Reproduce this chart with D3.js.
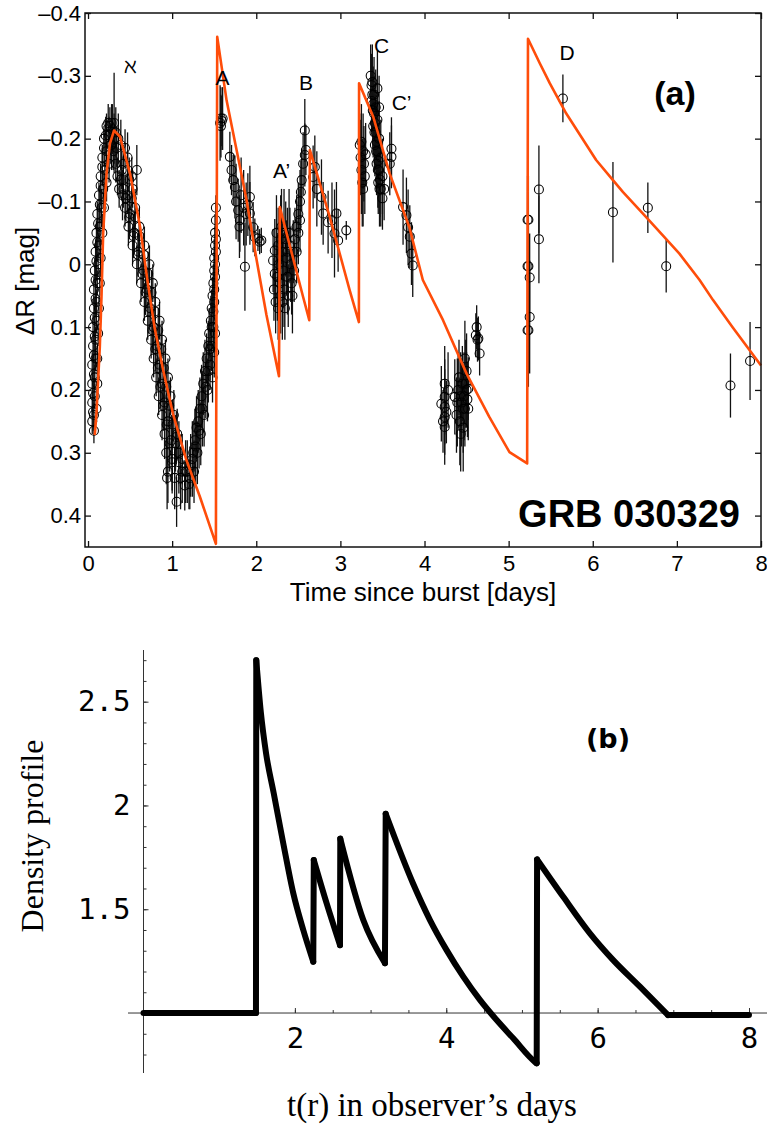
<!DOCTYPE html>
<html>
<head>
<meta charset="utf-8">
<title>GRB 030329 light curve and density profile</title>
<script src="https://d3js.org/d3.v7.min.js"></script>
<style>
body {
  margin: 0;
  background: #fff;
}
svg {
  display: block;
}
.frame {
  fill: none;
  stroke: #111;
  stroke-width: 1.5;
}
.sans {
  font-family: "Liberation Sans", Arial, Helvetica, sans-serif;
  fill: #000;
}
.mono {
  font-family: "DejaVu Sans Mono", monospace;
  fill: #000;
}
.serif {
  font-family: "Liberation Serif", "Times New Roman", serif;
  fill: #000;
}
</style>
</head>
<body>
<svg id="chart" width="767" height="1130"></svg>

<script>
// ---- panel (a): observed points, [t days, dR mag, error] ----
var humpRise = [
  [0.05,0.25,0.02],[0.05,0.22,0.02],[0.05,0.19,0.02],[0.05,0.16,0.02],[0.06,0.13,0.02],[0.06,0.10,0.02],
  [0.07,0.07,0.02],[0.07,0.04,0.02],[0.08,0.01,0.02],[0.09,-0.02,0.02],[0.10,-0.05,0.02],[0.11,-0.08,0.02],
  [0.13,-0.11,0.02],[0.15,-0.14,0.02],[0.17,-0.17,0.02],[0.19,-0.20,0.02],[0.22,-0.22,0.02],
  [0.07,0.265,0.02],[0.07,0.24,0.02],[0.08,0.21,0.02],[0.08,0.18,0.02],[0.09,0.15,0.02],[0.09,0.12,0.02],
  [0.10,0.09,0.02],[0.10,0.06,0.02],[0.11,0.03,0.02],[0.12,0.00,0.02],[0.13,-0.03,0.02],[0.14,-0.06,0.03],
  [0.16,-0.09,0.03],[0.18,-0.12,0.03],[0.20,-0.15,0.03],[0.22,-0.18,0.03],[0.25,-0.205,0.03],
  [0.10,0.23,0.02],[0.11,0.19,0.02],[0.11,0.15,0.02],[0.12,0.11,0.02],[0.13,0.07,0.02],[0.14,0.03,0.02],
  [0.15,-0.01,0.03],[0.17,-0.05,0.03],[0.19,-0.09,0.03],[0.22,-0.13,0.03],[0.25,-0.16,0.03],[0.28,-0.19,0.04],
  [0.06,0.235,0.03],[0.06,0.205,0.03],[0.07,0.175,0.03],[0.07,0.145,0.03],[0.08,0.115,0.03],[0.08,0.085,0.03],
  [0.09,0.055,0.03],[0.09,0.025,0.03],[0.10,-0.005,0.03],[0.11,-0.035,0.03],[0.12,-0.065,0.03],
  [0.14,-0.095,0.03],[0.15,-0.125,0.03],[0.17,-0.155,0.03],[0.19,-0.185,0.03],[0.21,-0.205,0.03],
  [0.24,-0.225,0.03]
];
var humpPeak = [
  [0.26,-0.22,0.03],[0.28,-0.225,0.03],[0.29,-0.215,0.04],[0.31,-0.225,0.08],[0.33,-0.21,0.04],[0.36,-0.20,0.04],
  [0.39,-0.19,0.04],[0.30,-0.18,0.03],[0.33,-0.16,0.03],[0.35,-0.14,0.03],[0.37,-0.12,0.03],[0.39,-0.135,0.03],
  [0.42,-0.16,0.03],[0.44,-0.185,0.03],[0.27,-0.19,0.03],[0.34,-0.185,0.03],[0.31,-0.20,0.04],[0.47,-0.17,0.04],
  [0.58,-0.15,0.04],[0.41,-0.11,0.04]
];
var humpFall = [
  [0.40,-0.15,0.03],[0.47,-0.15,0.03],[0.52,-0.14,0.03],
  [0.42,-0.12,0.03],[0.47,-0.11,0.03],[0.53,-0.12,0.03],
  [0.44,-0.09,0.03],[0.50,-0.08,0.03],[0.56,-0.09,0.03],
  [0.48,-0.06,0.03],[0.55,-0.05,0.03],[0.61,-0.06,0.03],
  [0.53,-0.03,0.03],[0.60,-0.02,0.03],[0.67,-0.03,0.03],
  [0.58,0.00,0.03],[0.66,0.01,0.03],[0.73,0.00,0.03],
  [0.63,0.03,0.03],[0.70,0.04,0.03],[0.77,0.03,0.03],
  [0.67,0.06,0.03],[0.74,0.07,0.03],[0.80,0.06,0.03],
  [0.71,0.09,0.03],[0.78,0.10,0.03],[0.85,0.09,0.03],
  [0.75,0.12,0.03],[0.82,0.13,0.03],[0.88,0.12,0.03],
  [0.78,0.15,0.03],[0.85,0.16,0.03],[0.92,0.15,0.03],
  [0.81,0.18,0.03],[0.88,0.19,0.03],[0.95,0.18,0.03],
  [0.84,0.21,0.03],[0.91,0.22,0.03],[0.98,0.21,0.03],
  [0.88,0.24,0.04],[0.95,0.25,0.04],[1.02,0.24,0.04],
  [0.91,0.27,0.04],[0.99,0.28,0.04],[1.06,0.27,0.04],
  [0.93,0.30,0.05],[1.00,0.31,0.05],[1.08,0.30,0.05],
  [0.95,0.33,0.05],[1.03,0.34,0.05],[1.12,0.33,0.05],
  [0.42,-0.135,0.035],[0.49,-0.135,0.035],[0.45,-0.105,0.035],[0.52,-0.105,0.035],
  [0.49,-0.075,0.035],[0.56,-0.075,0.035],[0.54,-0.045,0.035],[0.61,-0.045,0.035],
  [0.595,-0.015,0.035],[0.665,-0.015,0.035],[0.645,0.015,0.035],[0.715,0.015,0.035],
  [0.685,0.045,0.035],[0.755,0.045,0.035],[0.725,0.075,0.035],[0.795,0.075,0.035],
  [0.765,0.105,0.035],[0.835,0.105,0.035],[0.80,0.135,0.035],[0.87,0.135,0.035],
  [0.83,0.165,0.035],[0.90,0.165,0.035],[0.86,0.195,0.035],[0.93,0.195,0.035],
  [0.895,0.225,0.04],[0.965,0.225,0.04],[0.935,0.255,0.04],[1.005,0.255,0.04],
  [0.97,0.285,0.045],[1.04,0.285,0.045],[1.00,0.315,0.05],[1.08,0.315,0.05]
];
var humpTrough = [
  [1.05,0.275,0.04],[1.15,0.352,0.04],[0.94,0.34,0.05],[1.053,0.378,0.04],[1.10,0.34,0.05],
  [1.18,0.33,0.05],[1.20,0.35,0.04],[1.12,0.31,0.04]
];
var humpClimb = [
  [1.22,0.32,0.05],[1.25,0.30,0.05],[1.27,0.28,0.05],[1.29,0.26,0.05],[1.31,0.25,0.05],[1.33,0.23,0.05],
  [1.35,0.21,0.05],[1.37,0.19,0.05],[1.39,0.17,0.05],[1.41,0.15,0.04],[1.43,0.13,0.04],[1.44,0.11,0.04],
  [1.46,0.09,0.04],[1.47,0.07,0.03],[1.48,0.05,0.03],[1.49,0.03,0.03],[1.50,0.01,0.03],[1.50,-0.01,0.03],
  [1.51,-0.03,0.03],[1.51,-0.05,0.03],[1.52,-0.07,0.03],[1.52,-0.09,0.02],
  [1.26,0.33,0.05],[1.30,0.30,0.05],[1.34,0.27,0.05],[1.38,0.24,0.05],[1.42,0.20,0.05],[1.45,0.16,0.04],
  [1.47,0.13,0.04],[1.49,0.10,0.04],[1.50,0.06,0.03],[1.51,0.02,0.03],[1.52,-0.02,0.03],[1.48,0.18,0.04],
  [1.50,0.14,0.04],[1.51,0.11,0.03],
  [1.24,0.31,0.06],[1.28,0.29,0.06],[1.32,0.265,0.06],[1.36,0.23,0.06],[1.40,0.195,0.05],[1.43,0.17,0.05],
  [1.45,0.135,0.05],[1.47,0.10,0.04],[1.49,0.075,0.04],[1.50,0.04,0.04],[1.51,0.00,0.03],[1.52,-0.04,0.03],
  [1.21,0.34,0.05],[1.16,0.33,0.05]
];
var flareA = [
  [1.57,-0.225,0.06],[1.58,-0.232,0.05],[1.59,-0.228,0.04],[1.60,-0.232,0.05],[1.58,-0.22,0.05],
  [1.686,-0.171,0.04],[1.706,-0.15,0.04],[1.726,-0.134,0.04],[1.746,-0.123,0.05],[1.785,-0.086,0.05],
  [1.805,-0.07,0.05],[1.76,-0.10,0.06],[1.82,-0.11,0.06],[1.85,-0.09,0.06],[1.88,-0.08,0.05],
  [1.90,-0.095,0.05],[1.924,-0.107,0.05],[1.924,-0.081,0.05],[1.963,-0.059,0.04],[1.983,-0.043,0.03],
  [2.02,-0.041,0.02],[2.06,-0.038,0.02],[2.04,-0.036,0.02],[1.865,0.004,0.07],[1.80,-0.06,0.05]
];
var flareA2 = [
  [2.20,-0.006,0.05],[2.22,-0.022,0.05],[2.22,0.015,0.05],[2.21,0.04,0.05],[2.23,0.06,0.05],[2.24,-0.05,0.06],
  [2.26,-0.03,0.06],[2.27,0.00,0.06],[2.28,0.03,0.06],[2.29,0.05,0.06],[2.30,-0.06,0.06],[2.31,-0.02,0.06],
  [2.32,0.01,0.06],[2.33,0.04,0.06],[2.35,-0.04,0.06],[2.36,-0.01,0.06],[2.37,0.02,0.06],[2.38,0.05,0.05],
  [2.40,-0.03,0.06],[2.41,0.00,0.06],[2.42,0.03,0.05],[2.44,-0.02,0.05],[2.45,0.01,0.05],[2.26,0.07,0.05],
  [2.34,0.07,0.05],[2.25,0.02,0.07],[2.29,-0.04,0.07],[2.33,-0.05,0.07],[2.39,-0.05,0.07],[2.43,0.05,0.06],
  [2.31,0.06,0.06],[2.37,-0.02,0.07]
];
var flareB = [
  [2.46,-0.04,0.05],[2.48,-0.06,0.05],[2.50,-0.08,0.05],[2.52,-0.10,0.05],[2.53,-0.115,0.05],[2.54,-0.134,0.05],
  [2.557,-0.16,0.05],[2.577,-0.174,0.05],[2.59,-0.182,0.04],[2.577,-0.213,0.05],[2.50,-0.05,0.05],
  [2.52,-0.07,0.05],[2.48,-0.02,0.05],
  [2.676,-0.139,0.05],[2.696,-0.155,0.05],[2.775,-0.107,0.06],[2.795,-0.081,0.05],[2.854,-0.067,0.05],
  [2.93,-0.049,0.07],[2.953,-0.081,0.05],[2.973,-0.038,0.05],[3.07,-0.054,0.015],[2.72,-0.12,0.06],
  [2.90,-0.07,0.06]
];
var flareC = [
  [3.23,-0.19,0.05],[3.24,-0.17,0.06],[3.25,-0.15,0.07],[3.26,-0.13,0.07],[3.27,-0.18,0.06],[3.28,-0.16,0.06],
  [3.29,-0.14,0.06],[3.30,-0.175,0.05],[3.25,-0.195,0.06],[3.27,-0.12,0.06],
  [3.36,-0.30,0.05],[3.37,-0.285,0.05],[3.38,-0.27,0.06],[3.39,-0.255,0.06],[3.40,-0.24,0.06],[3.41,-0.225,0.06],
  [3.42,-0.21,0.06],[3.43,-0.195,0.06],[3.44,-0.18,0.06],[3.45,-0.165,0.06],[3.46,-0.15,0.06],[3.47,-0.135,0.06],
  [3.48,-0.12,0.06],[3.50,-0.105,0.05],[3.38,-0.29,0.06],[3.40,-0.27,0.06],[3.42,-0.25,0.06],[3.44,-0.23,0.06],
  [3.46,-0.20,0.06],[3.48,-0.17,0.06],[3.50,-0.14,0.06],[3.37,-0.26,0.05],[3.39,-0.22,0.05],[3.41,-0.19,0.05],
  [3.43,-0.16,0.05],[3.45,-0.13,0.05],[3.52,-0.12,0.05],[3.44,-0.28,0.06],[3.46,-0.25,0.05],
  [3.385,-0.245,0.06],[3.405,-0.21,0.06],[3.425,-0.18,0.06],[3.445,-0.15,0.06],[3.465,-0.12,0.06]
];
var flareC2 = [
  [3.587,-0.16,0.05],[3.607,-0.171,0.05],[3.607,-0.184,0.05],
  [3.745,-0.091,0.06],[3.785,-0.078,0.06],[3.805,-0.059,0.06],[3.825,-0.044,0.05],[3.845,-0.017,0.05],
  [3.86,0.002,0.05]
];
var dipDay4 = [
  [4.20,0.222,0.06],[4.24,0.19,0.06],[4.24,0.211,0.06],[4.24,0.227,0.06],[4.24,0.243,0.06],[4.24,0.259,0.06],
  [4.28,0.20,0.06],[4.26,0.235,0.05],[4.22,0.25,0.05],
  [4.36,0.211,0.06],[4.38,0.24,0.06],[4.40,0.20,0.06],[4.42,0.25,0.07],[4.44,0.22,0.07],[4.45,0.19,0.06],
  [4.46,0.26,0.07],[4.48,0.15,0.06],[4.48,0.23,0.06],[4.50,0.20,0.06],[4.52,0.198,0.05],[4.52,0.23,0.05],
  [4.41,0.18,0.06],[4.43,0.27,0.06],[4.47,0.21,0.07],[4.50,0.17,0.06],
  [4.39,0.22,0.07],[4.43,0.21,0.07],[4.46,0.23,0.07],[4.49,0.19,0.07],[4.51,0.215,0.06],
  [4.62,0.10,0.035],[4.64,0.118,0.035],[4.61,0.113,0.035],[4.655,0.142,0.035],[4.63,0.12,0.035]
];
var flareD = [
  [5.225,-0.071,0.07],[5.235,-0.071,0.07],[5.36,-0.119,0.07],[5.36,-0.04,0.07],[5.225,0.003,0.07],
  [5.235,0.003,0.07],[5.25,0.021,0.07],[5.25,0.084,0.09],[5.225,0.105,0.09],[5.235,0.105,0.09],
  [5.645,-0.264,0.038],[6.24,-0.083,0.08],[6.655,-0.09,0.04],[6.873,0.003,0.042],[7.637,0.193,0.051],
  [7.87,0.154,0.062]
];

// ---- panel (a): model light curve ----
var modelT = [0.08,0.10,0.14,0.16,0.18,0.22,0.26,0.31,0.38,0.50,0.62,0.70,0.79,0.894,1.01,1.17,1.33,1.52,
  1.536,1.647,1.766,1.885,2.00,2.12,2.27,2.28,2.557,2.63,2.637,2.874,3.11,3.22,3.222,3.39,3.587,3.82,
  3.98,4.22,4.50,4.77,5.01,5.22,5.23,5.37,5.49,5.685,6.04,6.24,6.36,6.635,7.03,7.27,7.43,7.66,8.0];
var modelR = [0.272,0.238,0.132,0.052,-0.049,-0.144,-0.192,-0.213,-0.203,-0.144,-0.059,0.02,0.10,0.169,0.238,
  0.312,0.37,0.445,-0.362,-0.261,-0.182,-0.102,-0.01,0.08,0.178,-0.091,0.052,0.089,-0.182,-0.075,0.041,
  0.092,-0.288,-0.235,-0.144,-0.059,0.025,0.089,0.174,0.243,0.299,0.317,-0.359,-0.32,-0.288,-0.24,-0.166,
  -0.134,-0.115,-0.075,-0.017,0.025,0.057,0.10,0.161];

var peakLabels = [
  {text: '\u2135', t: 0.50, r: -0.305, anchor: 'middle'},
  {text: 'A', t: 1.60, r: -0.285, anchor: 'middle'},
  {text: 'B', t: 2.59, r: -0.277, anchor: 'middle'},
  {text: 'A\u2019', t: 2.20, r: -0.137, anchor: 'start'},
  {text: 'C', t: 3.40, r: -0.337, anchor: 'start'},
  {text: 'C\u2019', t: 3.61, r: -0.246, anchor: 'start'},
  {text: 'D', t: 5.605, r: -0.325, anchor: 'start'}
];

// ---- panel (b): density profile ----
var densT = [0,1.486,1.49,1.55,1.62,1.72,1.847,1.979,2.111,2.243,2.25,2.42,2.596,2.60,2.904,3.19,3.20,3.56,
  3.785,4.005,4.225,4.445,4.666,4.885,5.17,5.195,5.20,5.546,5.898,6.206,6.559,6.93,8.0];
var densV = [1.0,1.0,2.70,2.45,2.25,2.06,1.817,1.577,1.40,1.247,1.737,1.528,1.327,1.84,1.448,1.24,1.96,1.625,
  1.448,1.303,1.175,1.063,0.966,0.878,0.765,0.758,1.74,1.56,1.384,1.255,1.127,0.99,0.99];

var svg = d3.select('#chart');

// ================= panel (a) =================
var x = d3.scaleLinear().domain([-0.036, 8]).range([85, 761]);
var y = d3.scaleLinear().domain([-0.4, 0.45]).range([13, 547]);
var yTicks = [-0.4,-0.3,-0.2,-0.1,0,0.1,0.2,0.3,0.4];
var fmtR = function(d) {
  if (Math.abs(d) < 1e-9) return '0';
  return (d < 0 ? '\u2013' : '') + Math.abs(d).toFixed(1);
};

var pa = svg.append('g');

var obs = [].concat(humpRise, humpPeak, humpFall, humpTrough, humpClimb, flareA, flareA2,
  flareB, flareC, flareC2, dipDay4, flareD);

pa.append('g').selectAll('line')
  .data(obs)
  .enter().append('line')
  .attr('x1', function(d) { return x(d[0]); })
  .attr('x2', function(d) { return x(d[0]); })
  .attr('y1', function(d) { return y(d[1] - d[2]); })
  .attr('y2', function(d) { return y(d[1] + d[2]); })
  .attr('stroke', '#111')
  .attr('stroke-width', 1.3);

pa.append('g').selectAll('circle')
  .data(obs)
  .enter().append('circle')
  .attr('cx', function(d) { return x(d[0]); })
  .attr('cy', function(d) { return y(d[1]); })
  .attr('r', 4.5)
  .attr('fill', 'none')
  .attr('stroke', '#000')
  .attr('stroke-width', 1.05);

pa.append('path')
  .datum(d3.zip(modelT, modelR))
  .attr('fill', 'none')
  .attr('stroke', '#ff4d0a')
  .attr('stroke-width', 2.6)
  .attr('stroke-linejoin', 'round')
  .attr('d', d3.line().x(function(d) { return x(d[0]); }).y(function(d) { return y(d[1]); }));

// axes, ticks pointing inward on all four sides
var axB = pa.append('g').attr('transform', 'translate(0,547)')
  .call(d3.axisBottom(x).tickValues(d3.range(0, 9)).tickSize(-6).tickPadding(8));
var axT = pa.append('g').attr('transform', 'translate(0,13)')
  .call(d3.axisTop(x).tickValues(d3.range(0, 9)).tickSize(-6).tickFormat(''));
var axL = pa.append('g').attr('transform', 'translate(85,0)')
  .call(d3.axisLeft(y).tickValues(yTicks).tickSize(-6).tickPadding(4).tickFormat(fmtR));
var axR = pa.append('g').attr('transform', 'translate(761,0)')
  .call(d3.axisRight(y).tickValues(yTicks).tickSize(-6).tickFormat(''));
[axB, axT, axL, axR].forEach(function(a) {
  a.select('.domain').remove();
  a.selectAll('.tick line').attr('stroke', '#111').attr('stroke-width', 1.3);
  a.selectAll('text').attr('class', 'sans').attr('font-size', 22).attr('fill', '#000');
});

pa.append('rect').attr('class', 'frame')
  .attr('x', 85).attr('y', 13).attr('width', 676).attr('height', 534);

pa.append('text').attr('class', 'sans')
  .attr('x', 423).attr('y', 601)
  .attr('text-anchor', 'middle').attr('font-size', 26)
  .text('Time since burst [days]');

pa.append('text').attr('class', 'sans')
  .attr('transform', 'translate(34,281) rotate(-90)')
  .attr('text-anchor', 'middle').attr('font-size', 26)
  .text('\u0394R [mag]');

pa.append('g').selectAll('text')
  .data(peakLabels)
  .enter().append('text')
  .attr('class', 'sans')
  .attr('x', function(d) { return x(d.t); })
  .attr('y', function(d) { return y(d.r); })
  .attr('text-anchor', function(d) { return d.anchor; })
  .attr('font-size', 21)
  .text(function(d) { return d.text; });

pa.append('text').attr('class', 'sans')
  .attr('x', 675).attr('y', 105)
  .attr('text-anchor', 'middle').attr('font-size', 34).attr('font-weight', 'bold')
  .text('(a)');

pa.append('text').attr('class', 'sans')
  .attr('x', 629).attr('y', 527)
  .attr('text-anchor', 'middle').attr('font-size', 38).attr('font-weight', 'bold')
  .text('GRB 030329');

// ================= panel (b) =================
var xb = d3.scaleLinear().domain([0, 8]).range([143.5, 749]);
var yb = d3.scaleLinear().domain([0.711, 2.749]).range([1073, 650]);

var pb = svg.append('g');

// axes cross at (0, 1)
pb.append('line')
  .attr('x1', 128).attr('x2', 767)
  .attr('y1', yb(1)).attr('y2', yb(1))
  .attr('stroke', '#333').attr('stroke-width', 1);
pb.append('line')
  .attr('x1', xb(0)).attr('x2', xb(0))
  .attr('y1', 650).attr('y2', 1073)
  .attr('stroke', '#333').attr('stroke-width', 1);

var bxMinor = pb.append('g').attr('transform', 'translate(0,' + yb(1) + ')')
  .call(d3.axisBottom(xb).tickValues(d3.range(0.5, 8.5, 0.5)).tickSize(-3).tickFormat(''));
var bxMajor = pb.append('g').attr('transform', 'translate(0,' + yb(1) + ')')
  .call(d3.axisBottom(xb).tickValues([2, 4, 6, 8]).tickSize(-5).tickPadding(14).tickFormat(d3.format('d')));
var byMinor = pb.append('g').attr('transform', 'translate(' + xb(0) + ',0)')
  .call(d3.axisLeft(yb).tickValues(d3.range(0.8, 2.75, 0.1)).tickSize(-3).tickFormat(''));
var byMajor = pb.append('g').attr('transform', 'translate(' + xb(0) + ',0)')
  .call(d3.axisLeft(yb).tickValues([1.5, 2, 2.5]).tickSize(-5).tickPadding(13)
    .tickFormat(function(d) { return d === 2 ? '2' : d.toFixed(1); }));
[bxMinor, bxMajor, byMinor, byMajor].forEach(function(a) {
  a.select('.domain').remove();
  a.selectAll('.tick line').attr('stroke', '#333').attr('stroke-width', 1);
  a.selectAll('text').attr('class', 'mono').attr('font-size', 29).attr('fill', '#000');
});

// split the profile into smooth decays and straight jumps
var densPts = d3.zip(densT, densV);
var decays = [], jumps = [], cur = [densPts[0]];
for (var i = 1; i < densPts.length; i++) {
  if (densPts[i][1] < densPts[i - 1][1]) {
    cur.push(densPts[i]);
  } else {
    decays.push(cur);
    jumps.push([densPts[i - 1], densPts[i]]);
    cur = [densPts[i]];
  }
}
decays.push(cur);

var lineB = d3.line().x(function(d) { return xb(d[0]); }).y(function(d) { return yb(d[1]); });
var smoothB = d3.line().curve(d3.curveMonotoneX)
  .x(function(d) { return xb(d[0]); }).y(function(d) { return yb(d[1]); });

pb.append('g').selectAll('path')
  .data(decays.filter(function(s) { return s.length > 1; }).map(function(s) { return smoothB(s); })
    .concat(jumps.map(function(s) { return lineB(s); })))
  .enter().append('path')
  .attr('d', function(d) { return d; })
  .attr('fill', 'none')
  .attr('stroke', '#000')
  .attr('stroke-width', 6)
  .attr('stroke-linejoin', 'round')
  .attr('stroke-linecap', 'round');

pb.append('text').attr('class', 'serif')
  .attr('x', 432).attr('y', 1116)
  .attr('text-anchor', 'middle').attr('font-size', 33)
  .text('t(r) in observer\u2019s days');

pb.append('text').attr('class', 'serif')
  .attr('transform', 'translate(43,836) rotate(-90)')
  .attr('text-anchor', 'middle').attr('font-size', 32)
  .text('Density profile');

pb.append('text')
  .attr('x', 608).attr('y', 748)
  .attr('text-anchor', 'middle')
  .attr('font-family', '"DejaVu Sans", sans-serif')
  .attr('font-size', 27).attr('font-weight', 'bold')
  .text('(b)');
</script>
</body>
</html>
